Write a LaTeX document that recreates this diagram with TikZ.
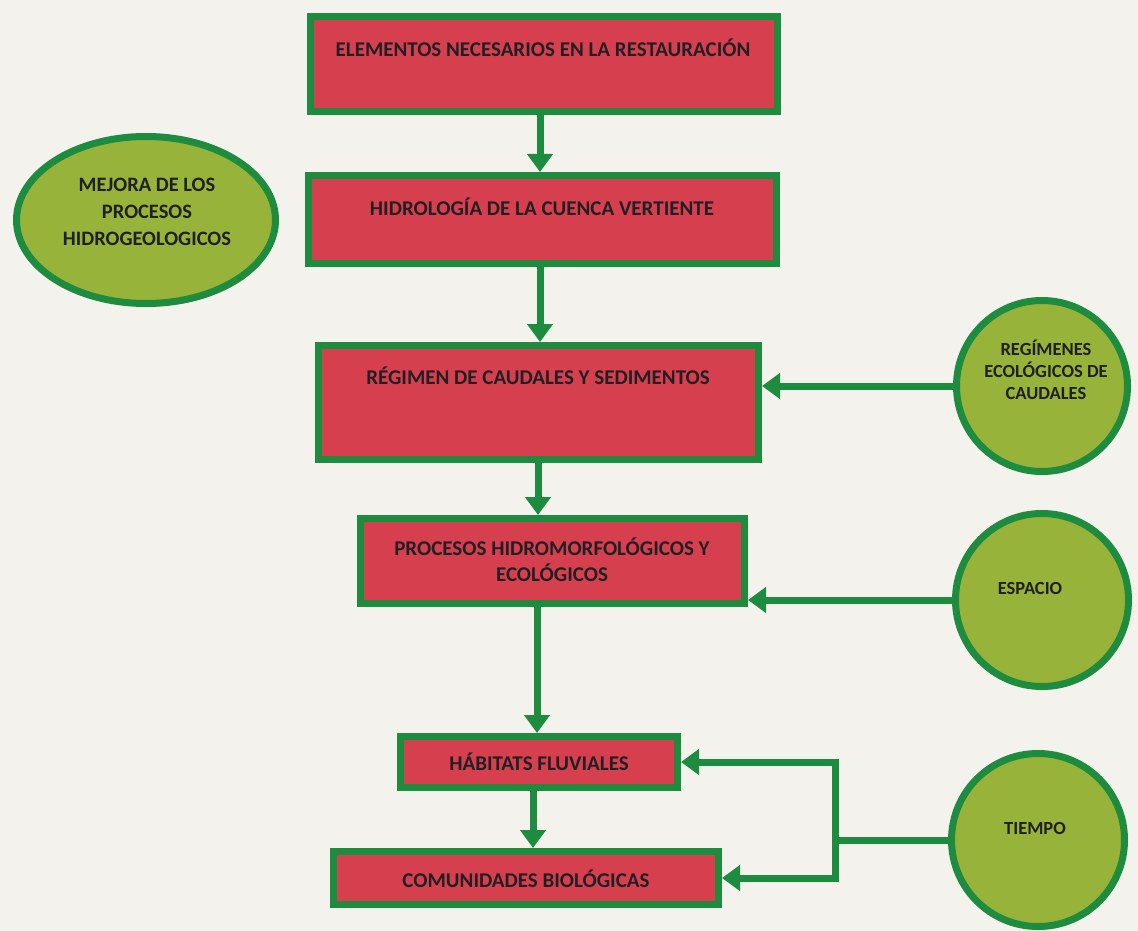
\documentclass[tikz,border=0pt]{standalone}
\usepackage{fontspec}
\setmainfont{Carlito}
\usetikzlibrary{arrows.meta,shapes.geometric,shadows}
\definecolor{bg}{HTML}{F3F2EC}
\definecolor{boxred}{HTML}{D6404E}
\definecolor{gr}{HTML}{1E8C3E}
\definecolor{olive}{HTML}{97B339}
\definecolor{ink}{HTML}{202024}
\definecolor{shd}{HTML}{6A3A2E}
\tikzset{
  box/.style={draw=gr, line width=7pt, fill=boxred, rectangle, inner sep=0pt,
    drop shadow={shadow xshift=2pt, shadow yshift=-3pt, fill=shd, opacity=.55}},
  blob/.style={draw=gr, line width=7pt, fill=olive, circle, inner sep=0pt,
    drop shadow={shadow xshift=2pt, shadow yshift=-3pt, fill=shd, opacity=.45}},
  oval/.style={draw=gr, line width=7pt, fill=olive, ellipse, inner sep=0pt,
    drop shadow={shadow xshift=2pt, shadow yshift=-3pt, fill=shd, opacity=.45}},
  txt/.style={text=ink, font=\bfseries\fontsize{21}{26}\selectfont, align=center, inner sep=0pt},
  ctxt/.style={text=ink, font=\bfseries\fontsize{18.5}{22}\selectfont, align=center, inner sep=0pt},
  etxt/.style={text=ink, font=\bfseries\fontsize{20.5}{27}\selectfont, align=center, inner sep=0pt},
  arr/.style={draw=gr, line width=7pt, -{Triangle[width=25pt,length=18pt]}},
  link/.style={draw=gr, line width=7pt}
}
\begin{document}
\begin{tikzpicture}[x=1pt,y=-1pt]
\fill[bg] (0,0) rectangle (1138,931);
\useasboundingbox (0,0) rectangle (1138,931);

% boxes
\node[box, minimum width=467pt, minimum height=95pt] (b1) at (544,64) {};
\node[box, minimum width=468pt, minimum height=88pt] (b2) at (542.5,219.5) {};
\node[box, minimum width=440pt, minimum height=114pt] (b3) at (538.5,402.5) {};
\node[box, minimum width=384pt, minimum height=85pt] (b4) at (552.5,561) {};
\node[box, minimum width=277pt, minimum height=51pt] (b5) at (539,762) {};
\node[box, minimum width=385pt, minimum height=53pt] (b6) at (526,878) {};

\node[txt] (t1) at (543,48) {ELEMENTOS NECESARIOS EN LA RESTAURACIÓN};
\node[txt] (t2) at (542,207) {HIDROLOGÍA DE LA CUENCA VERTIENTE};
\node[txt] (t3) at (538,376) {RÉGIMEN DE CAUDALES Y SEDIMENTOS};
\node[txt] (t4) at (552,560) {PROCESOS HIDROMORFOLÓGICOS Y\\ECOLÓGICOS};
\node[txt] (t5) at (539,762) {HÁBITATS FLUVIALES};
\node[txt] (t6) at (526,879) {COMUNIDADES BIOLÓGICAS};

% ellipse and circles
\node[oval, minimum width=259pt, minimum height=167pt] (mej) at (146,220) {};
\node[etxt] (tm) at (147,212) {MEJORA DE LOS\\PROCESOS\\HIDROGEOLOGICOS};

\node[blob, minimum size=171pt] (reg) at (1042,386) {};
\node[ctxt] (tr) at (1046,370) {REGÍMENES\\ECOLÓGICOS DE\\CAUDALES};

\node[blob, minimum size=173pt] (esp) at (1042,600) {};
\node[ctxt] (te) at (1030,588) {ESPACIO};

\node[blob, minimum size=173pt] (tie) at (1038,840) {};
\node[ctxt] (tt) at (1035,828) {TIEMPO};

% vertical arrows
\draw[arr] (540,0 |- b1.south) -- (540,0 |- b2.north);
\draw[arr] (540,0 |- b2.south) -- (540,0 |- b3.north);
\draw[arr] (538,0 |- b3.south) -- (538,0 |- b4.north);
\draw[arr] (537,0 |- b4.south) -- (537,0 |- b5.north);
\draw[arr] (533,0 |- b5.south) -- (533,0 |- b6.north);

% side arrows
\draw[arr] (reg.west) -- (reg.west -| b3.east);
\draw[arr] (esp.west) -- (esp.west -| b4.east);
\coordinate (j) at (835,0 |- tie.west);
\draw[link] (tie.west) -- (j);
\draw[arr] (j) |- (b5.east);
\draw[arr] (j) |- (b6.east);
\end{tikzpicture}
\end{document}
